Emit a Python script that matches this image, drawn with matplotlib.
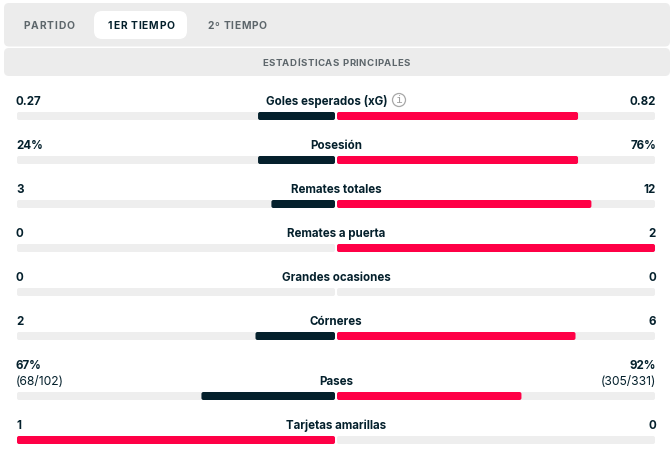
import matplotlib
matplotlib.use("Agg")
import matplotlib.pyplot as plt
from matplotlib.patches import FancyBboxPatch, Circle
from matplotlib.font_manager import FontProperties

plt.rcParams['font.family'] = ['Inter', 'DejaVu Sans']

tabs = ["PARTIDO", "1ER TIEMPO", "2º TIEMPO"]
section = "ESTADÍSTICAS PRINCIPALES"
labels = ["Goles esperados (xG)", "Posesión", "Remates totales", "Remates a puerta",
          "Grandes ocasiones", "Córneres", "Pases", "Tarjetas amarillas"]
home_text = ["0.27", "24%", "3", "0", "0", "2", "67%", "1"]
away_text = ["0.82", "76%", "12", "2", "0", "6", "92%", "0"]
home_share = [0.242, 0.242, 0.20, 0.0, 0.0, 0.25, 0.42, 1.0]
away_share = [0.758, 0.758, 0.80, 1.0, 0.0, 0.75, 0.58, 0.0]
home_winner = [False, False, False, False, False, False, False, True]
home_sub = {6: "(68/102)"}
away_sub = {6: "(305/331)"}
bar_tops = [112, 156, 200, 244, 288, 332, 392, 436]

navy = "#04202c"
red = "#ff0046"
track = "#eeeeee"
panel = "#ececec"
grey = "#5d666b"

fig = plt.figure(figsize=(6.71, 4.57), dpi=100)
ax = fig.add_axes([0, 0, 1, 1])
ax.set_xlim(0, 671)
ax.set_ylim(457, 0)
ax.axis("off")
renderer = fig.canvas.get_renderer()


def rbox(x0, y0, x1, y1, r, color):
    ax.add_patch(FancyBboxPatch((x0 + r, y0 + r), x1 - x0 - 2 * r, y1 - y0 - 2 * r,
                                boxstyle=f"round,pad={r},rounding_size={r}",
                                fc=color, ec="none", lw=0))


def spaced_text(xc, y, s, size, weight, color, spacing):
    # matplotlib has no letter spacing, so place each character from the prefix width
    fp = FontProperties(family=['Inter', 'DejaVu Sans'], size=size, weight=weight)
    adv = lambda t: renderer.get_text_width_height_descent(t, fp, False)[0] if t else 0
    total = adv(s) + spacing * (len(s) - 1)
    for i, ch in enumerate(s):
        ax.text(xc - total / 2 + adv(s[:i]) + i * spacing, y, ch, ha="left", va="baseline",
                fontproperties=fp, color=color)


# header panels
rbox(4, 3, 670, 46.5, 5, panel)
rbox(4, 48, 670, 76, 5, panel)
rbox(94, 11, 187, 39, 8, "white")

spaced_text(49, 29, tabs[0], 7.4, "bold", grey, 0.75)
spaced_text(141, 29, tabs[1], 7.4, "bold", navy, 0.75)
spaced_text(237, 29, tabs[2], 7.4, "bold", grey, 0.75)
spaced_text(336, 66, section, 6.9, "bold", grey, 0.5)

# stat rows
left_edge, left_end = 17, 335
right_start, right_edge = 337, 655
width = left_end - left_edge
for i, lab in enumerate(labels):
    top = bar_tops[i]
    rbox(left_edge, top, left_end, top + 8, 2, track)
    rbox(right_start, top, right_edge, top + 8, 2, track)
    if home_share[i] > 0:
        c = red if home_winner[i] else navy
        rbox(left_end - home_share[i] * width, top, left_end, top + 8, 2, c)
    if away_share[i] > 0:
        rbox(right_start, top, right_start + away_share[i] * width, top + 8, 2, red)

    y = top - 10
    lab_x = 326.5 if i == 0 else 336
    ax.text(lab_x, y, lab, ha="center", va="center", fontsize=8.3, weight="bold", color=navy)
    if i in home_sub:
        ax.text(left_edge - 1, y - 16, home_text[i], ha="left", va="center", fontsize=8.3, weight="bold", color=navy)
        ax.text(right_edge + 1, y - 16, away_text[i], ha="right", va="center", fontsize=8.3, weight="bold", color=navy)
        ax.text(left_edge - 1, y, home_sub[i], ha="left", va="center", fontsize=8.7, color=navy)
        ax.text(right_edge + 1, y, away_sub[i], ha="right", va="center", fontsize=8.7, color=navy)
    else:
        ax.text(left_edge - 1, y, home_text[i], ha="left", va="center", fontsize=8.3, weight="bold", color=navy)
        ax.text(right_edge + 1, y, away_text[i], ha="right", va="center", fontsize=8.3, weight="bold", color=navy)

# info icon next to xG
ax.add_patch(Circle((399, 100), 6.5, fc="none", ec="#a8a8a8", lw=0.9))
ax.text(399, 100, "i", ha="center", va="center", fontsize=8, family="DejaVu Sans Mono", color="#a0a0a0")

fig.savefig("out.png", dpi=100)
